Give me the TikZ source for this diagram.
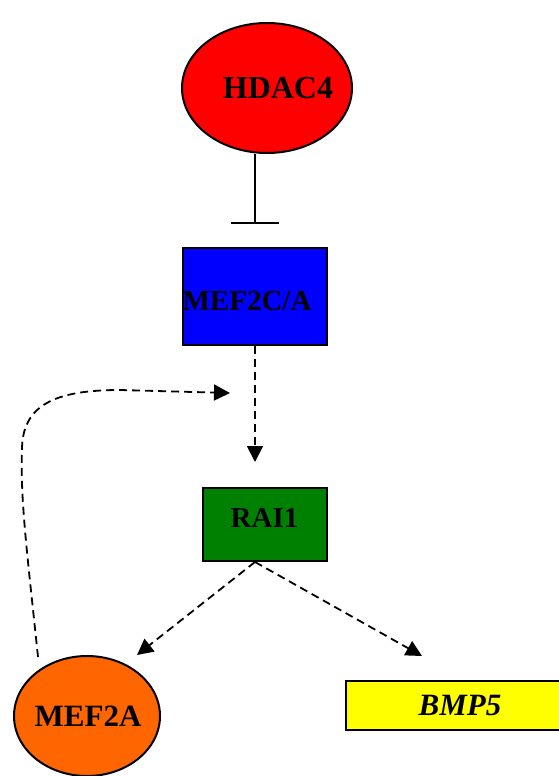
\documentclass[tikz,border=0pt]{standalone}
\usepackage{fontspec}
\setmainfont{Liberation Serif}
\usepackage{tikz}
\usetikzlibrary{arrows.meta,shapes.geometric}
\definecolor{GeneRed}{HTML}{FF0000}
\definecolor{GeneBlue}{HTML}{0000FF}
\definecolor{GeneGreen}{HTML}{008000}
\definecolor{GeneOrange}{HTML}{FF6600}
\definecolor{GeneYellow}{HTML}{FFFF00}
\begin{document}
\begin{tikzpicture}[x=1pt, y=-1pt,
  gene/.style={draw=black, line width=2pt, inner sep=0pt},
  blob/.style={gene, ellipse},
  genebox/.style={gene, rectangle},
  genename/.style={font=\fontsize{#1}{#1}\selectfont\bfseries},
  induce/.style={-{Triangle[length=16pt, width=16pt]}, line width=1.8pt,
                 dash pattern=on 8pt off 5pt},
  inhibit/.style={-{Bar[width=48pt, line width=2pt]}, line width=2pt}
]
\useasboundingbox (0,0) rectangle (559,776);
\node[blob, fill=GeneRed, minimum width=170, minimum height=130,
      label={[genename=32, xshift=11pt]center:HDAC4}]
  (hdac4) at (267,88) {};
\node[genebox, fill=GeneBlue, minimum width=144, minimum height=97,
      label={[genename=29, xshift=-8pt, yshift=-5pt]center:MEF2C/A}]
  (mef2c) at (255,296.5) {};
\node[genebox, fill=GeneGreen, minimum width=124, minimum height=73,
      label={[genename=29, yshift=7pt]center:RAI1}]
  (rai1) at (264.5,524.5) {};
\node[blob, fill=GeneOrange, minimum width=146, minimum height=120,
      label={[genename=31, xshift=1pt]center:MEF2A}]
  (mef2a) at (87,716) {};
\node[genebox, fill=GeneYellow, minimum width=220, minimum height=49,
      label={[font=\fontsize{31}{31}\selectfont\bfseries\itshape, xshift=4pt]center:BMP5}]
  (bmp5) at (456,705) {};
\coordinate (loopstart) at (38,657);
\coordinate (loopend) at (230,393);
\coordinate (tipmef2a) at (137,655);
\coordinate (tipbmp5) at (422,656);
\draw[inhibit, shorten >=23pt] (hdac4.south -| mef2c.north) -- (mef2c.north);
\draw[induce, shorten >=25pt] (mef2c.south) -- (mef2c.south |- rai1.north);
\draw[induce] (mef2c.south |- rai1.south) -- (tipmef2a);
\draw[induce] (mef2c.south |- rai1.south) -- (tipbmp5);
\draw[induce] (loopstart) .. controls (28,560) and (20,500) .. (22,450)
  .. controls (22,405) and (55,390) .. (120,390) -- (loopend);
\end{tikzpicture}
\end{document}
